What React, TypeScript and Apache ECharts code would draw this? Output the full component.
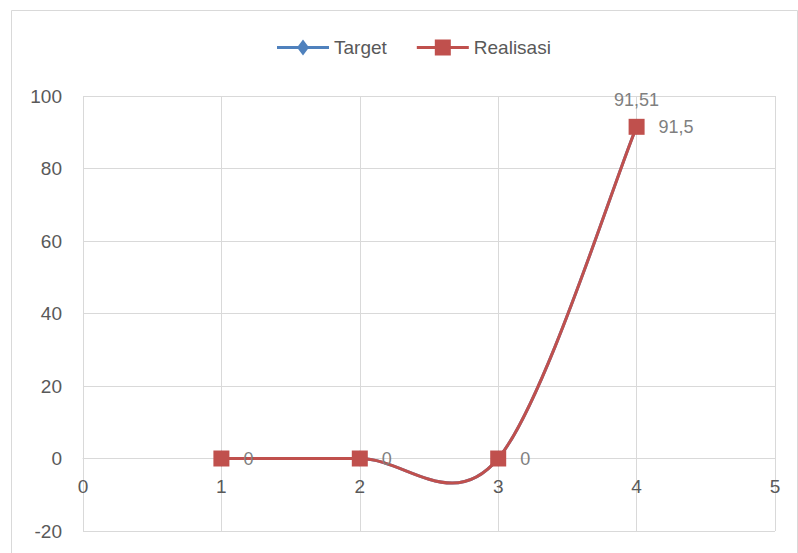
import React, { useEffect, useRef } from "react";
import * as echarts from "echarts";

const xValues = [1, 2, 3, 4];
const targetValues = [0, 0, 0, 91.51];
const realisasiValues = [0, 0, 0, 91.5];
const seriesNames = ["Target", "Realisasi"];
const xTicks = [0, 1, 2, 3, 4, 5];
const yTicks = [-20, 0, 20, 40, 60, 80, 100];

const BLUE = "#4F81BD";
const RED = "#C0504D";
const FONT = "'Liberation Sans', 'Noto Sans', sans-serif";
const fmt = (v: number) => String(v).replace(".", ",");

const ICON_TARGET = "path://M0,6.5 L52,6.5 L52,9.5 L0,9.5 Z M26,0 L32,8 L26,16 L20,8 Z";
const ICON_REAL = "path://M0,6.5 L52,6.5 L52,9.5 L0,9.5 Z M18,0 L34,0 L34,16 L18,16 Z";

const GRID_TOP = 96;
const GRID_BOTTOM = 22;
const CHART_H = 553;

// Excel-like smoothed curve (Catmull-Rom, tension 1/6) drawn through the axis scales
function curveSeries(name: string, values: number[], color: string, z: number) {
  return {
    name,
    type: "custom",
    coordinateSystem: "cartesian2d",
    data: xValues.map((x, i) => [x, values[i]]),
    encode: { x: 0, y: 1 },
    z,
    silent: true,
    renderItem: (params: any, api: any) => {
      const i = params.dataIndex;
      const n = xValues.length;
      if (i >= n - 1) return null;
      const pts = xValues.map((x, k) => api.coord([x, values[k]]));
      const p0 = pts[Math.max(i - 1, 0)];
      const p1 = pts[i];
      const p2 = pts[i + 1];
      const p3 = pts[Math.min(i + 2, n - 1)];
      return {
        type: "bezierCurve",
        shape: {
          x1: p1[0],
          y1: p1[1],
          x2: p2[0],
          y2: p2[1],
          cpx1: p1[0] + (p2[0] - p0[0]) / 6,
          cpy1: p1[1] + (p2[1] - p0[1]) / 6,
          cpx2: p2[0] - (p3[0] - p1[0]) / 6,
          cpy2: p2[1] - (p3[1] - p1[1]) / 6,
        },
        style: { stroke: color, lineWidth: 3, fill: "none", lineCap: "round" },
      };
    },
  };
}

export default function App() {
  const ref = useRef<HTMLDivElement>(null);
  useEffect(() => {
    if (!ref.current) return;
    const chart = echarts.init(ref.current, undefined, { renderer: "svg" });
    const targetData = xValues.map((x, i) => ({
      value: [x, targetValues[i]],
      label: { show: i === xValues.length - 1 },
    }));
    const realData = xValues.map((x, i) => [x, realisasiValues[i]]);
    // put the x axis (and its labels) on the y = 0 line, like Excel's crossing axis
    const yMin = yTicks[0];
    const yMax = yTicks[yTicks.length - 1];
    const plotH = CHART_H - GRID_TOP - GRID_BOTTOM;
    const zeroOffset = -((0 - yMin) / (yMax - yMin)) * plotH;
    chart.setOption({
      animation: false,
      textStyle: { fontFamily: FONT },
      graphic: [
        {
          type: "rect",
          shape: { x: 11.5, y: 10.5, width: 786, height: 560 },
          style: { fill: "none", stroke: "#D9D9D9", lineWidth: 1 },
          silent: true,
        },
      ],
      legend: {
        left: 272,
        top: 33,
        itemWidth: 52,
        itemHeight: 16,
        itemGap: 30,
        textStyle: { color: "#595959", fontSize: 19, fontFamily: FONT },
        data: [
          { name: seriesNames[0], icon: ICON_TARGET },
          { name: seriesNames[1], icon: ICON_REAL },
        ],
      },
      grid: {
        left: 83,
        right: 23,
        top: GRID_TOP,
        bottom: GRID_BOTTOM,
        containLabel: false,
        outerBoundsMode: "none",
      },
      xAxis: {
        type: "value",
        min: xTicks[0],
        max: xTicks[xTicks.length - 1],
        interval: 1,
        position: "bottom",
        offset: zeroOffset,
        axisLine: { show: true, onZero: false, lineStyle: { color: "#D9D9D9", width: 1 } },
        axisTick: { show: false },
        axisLabel: { color: "#595959", fontSize: 19, margin: 18, fontFamily: FONT },
        splitLine: { show: true, lineStyle: { color: "#D9D9D9", width: 1 } },
      },
      yAxis: {
        type: "value",
        min: yMin,
        max: yMax,
        interval: 20,
        axisLine: { show: false, onZero: false },
        axisTick: { show: false },
        axisLabel: { color: "#595959", fontSize: 19, margin: 21, fontFamily: FONT },
        splitLine: { show: true, lineStyle: { color: "#D9D9D9", width: 1 } },
      },
      series: [
        curveSeries("Target curve", targetValues, BLUE, 1),
        {
          name: seriesNames[0],
          type: "line",
          data: targetData,
          symbol: "diamond",
          symbolSize: [12, 16],
          color: BLUE,
          lineStyle: { width: 3, opacity: 0 },
          itemStyle: { color: BLUE },
          label: {
            show: false,
            position: "top",
            distance: 10,
            color: "#7F7F7F",
            fontSize: 18,
            fontFamily: FONT,
            formatter: (p: any) => fmt(p.value[1]),
          },
          z: 2,
        },
        curveSeries("Realisasi curve", realisasiValues, RED, 3),
        {
          name: seriesNames[1],
          type: "line",
          data: realData,
          symbol: "rect",
          symbolSize: 16,
          color: RED,
          lineStyle: { width: 3, opacity: 0 },
          itemStyle: { color: RED },
          label: {
            show: true,
            position: "right",
            distance: 14,
            color: "#7F7F7F",
            fontSize: 18,
            fontFamily: FONT,
            formatter: (p: any) => fmt(p.value[1]),
          },
          z: 4,
        },
      ],
    });
    return () => chart.dispose();
  }, []);
  return (
    <div
      ref={ref}
      style={{ position: "fixed", left: 0, top: 0, width: 798, height: 553, background: "#fff" }}
    />
  );
}
